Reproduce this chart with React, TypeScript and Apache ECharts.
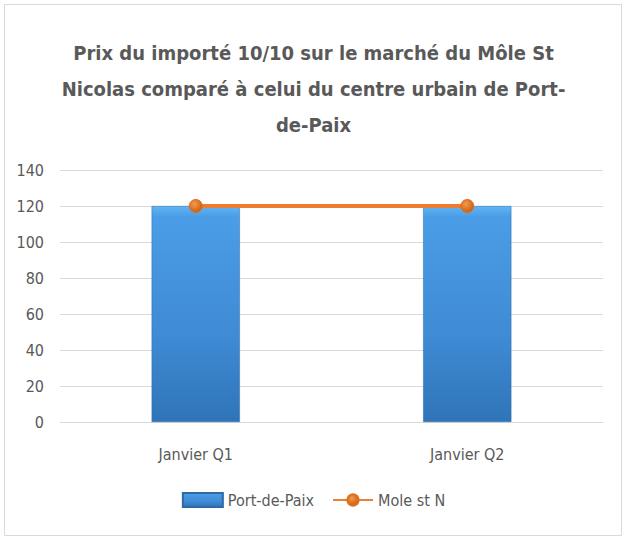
import React, { useEffect, useRef } from "react";
import * as echarts from "echarts";

const categories = ["Janvier Q1", "Janvier Q2"];
const portDePaix = [120, 120];
const moleStN = [120, 120];
const titleLines = [
  "Prix du importé 10/10 sur le marché du Môle St",
  "Nicolas comparé à celui du centre urbain de Port-",
  "de-Paix",
];

const FONT = "'Liberation Sans Narrow', 'DejaVu Sans Condensed', 'Open Sans', sans-serif";

export default function App() {
  const ref = useRef<HTMLDivElement>(null);
  useEffect(() => {
    if (!ref.current) return;
    const chart = echarts.init(ref.current, null, { renderer: "svg" });
    chart.setOption({
      animation: false,
      backgroundColor: "#ffffff",
      textStyle: { fontFamily: FONT },
      title: {
        text: titleLines.join("\n"),
        left: "center",
        top: 30,
        textStyle: {
          fontFamily: FONT,
          fontSize: 20,
          fontWeight: "bold",
          color: "#595959",
          lineHeight: 36,
          align: "center",
        },
      },
      graphic: [
        {
          type: "rect",
          shape: { x: 4.5, y: 4.5, width: 617, height: 531 },
          style: { fill: "none", stroke: "#d9d9d9", lineWidth: 1 },
          silent: true,
        },
      ],
      legend: {
        bottom: 26,
        left: "center",
        itemWidth: 40,
        itemHeight: 14,
        itemGap: 18,
        textStyle: { color: "#595959", fontSize: 16, fontFamily: FONT },
        data: [
          { name: "Port-de-Paix", icon: "rect" },
          { name: "Mole st N" },
        ],
      },
      grid: { left: 60, right: 24, top: 170, bottom: 117, containLabel: false },
      xAxis: {
        type: "category",
        data: categories,
        axisLine: { lineStyle: { color: "#d9d9d9" } },
        axisTick: { show: false },
        axisLabel: { color: "#595959", fontSize: 16, margin: 24, fontFamily: FONT },
      },
      yAxis: {
        type: "value",
        min: 0,
        max: 140,
        interval: 20,
        axisLine: { show: false },
        axisTick: { show: false },
        axisLabel: { color: "#595959", fontSize: 16, margin: 16, fontFamily: FONT },
        splitLine: { lineStyle: { color: "#d9d9d9" } },
      },
      series: [
        {
          name: "Port-de-Paix",
          type: "bar",
          data: portDePaix,
          barWidth: "32.5%",
          itemStyle: {
            color: new echarts.graphic.LinearGradient(0, 0, 0, 1, [
              { offset: 0, color: "#62b4f2" },
              { offset: 0.05, color: "#4a9de6" },
              { offset: 0.6, color: "#3f8bd4" },
              { offset: 1, color: "#2f74b8" },
            ]),
            borderColor: "#2e6aa6",
            borderWidth: 0.5,
          },
        },
        {
          name: "Mole st N",
          type: "line",
          data: moleStN,
          symbol: "circle",
          symbolSize: 13,
          lineStyle: { color: "#ed7d31", width: 4 },
          itemStyle: {
            color: new echarts.graphic.RadialGradient(0.4, 0.35, 0.7, [
              { offset: 0, color: "#f59a4a" },
              { offset: 1, color: "#c55a11" },
            ]),
            borderColor: "#e07020",
            borderWidth: 1,
          },
        },
      ],
    });
    return () => chart.dispose();
  }, []);
  return (
    <div
      ref={ref}
      style={{ position: "fixed", left: 0, top: 0, width: 627, height: 539 }}
    />
  );
}
